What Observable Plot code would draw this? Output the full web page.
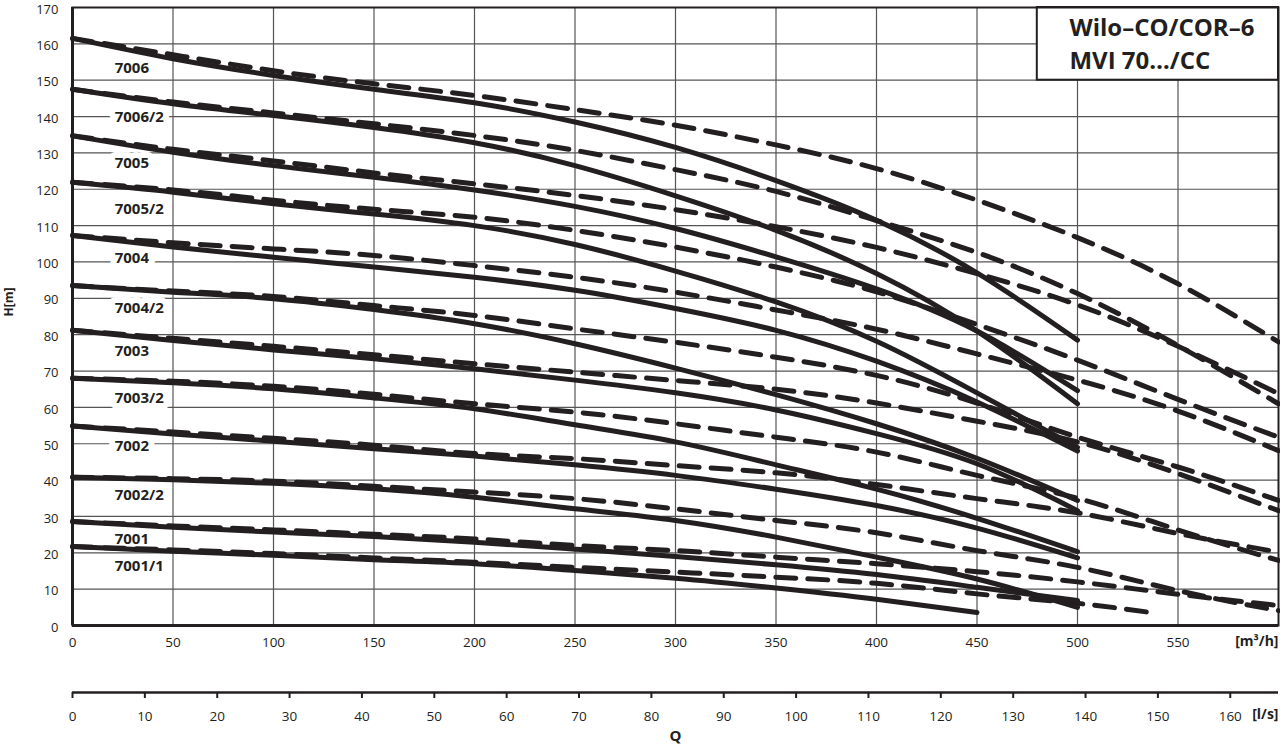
<!DOCTYPE html>
<html><head><meta charset="utf-8">
<script src="https://cdn.jsdelivr.net/npm/d3@7"></script>
<script src="https://cdn.jsdelivr.net/npm/@observablehq/plot@0.6"></script>
<style>
body{margin:0;background:#fff;}
svg{display:block;}
</style></head><body><div id="chart"></div>
<script>
// Tick values
const qTicks = [0,50,100,150,200,250,300,350,400,450,500,550];
const hTicks = [0,10,20,30,40,50,60,70,80,90,100,110,120,130,140,150,160,170];
const lpsTicks = [0,10,20,30,40,50,60,70,80,90,100,110,120,130,140,150,160];

// Flow points (m3/h)
const qSolid = [0,50,100,150,200,250,300,350,400,450,500];
const qDash = [0,50,100,150,200,250,300,350,400,450,500,550,600];
const qSolid7001_1 = [0,50,100,150,200,250,300,350,400,450];
const qDash7001_1 = [0,50,100,150,200,250,300,350,400,450,500,540];

// Head values (m): solid = one curve, dashed = second curve of each model
const h7006_s   = [161.5,155.9,151.3,147.5,143.8,138.5,131.5,122.4,111.5,97,78.5];
const h7006_d   = [161.5,157,152.6,149,145.8,141.9,137.6,132.2,125.7,117,106.7,94,78];
const h7006_2_s = [147.5,143.5,140.3,137,132.8,126.5,118.2,108.7,96.8,81,61];
const h7006_2_d = [147.5,144,141,138,134.8,130.7,125.4,119.4,111.4,102.6,91.3,77,61];
const h7005_s   = [134.7,130.2,126.5,123.3,119.8,115.3,109.2,101.4,92.6,81,64.6];
const h7005_d   = [134.7,131,127.8,124.5,121.5,118.3,114.4,109.7,104,96.8,88.2,76.8,63.8];
const h7005_2_s = [121.9,119.2,116,113.2,110,104.8,97.5,89,78.2,64,49];
const h7005_2_d = [121.9,119.8,117,114.5,112.3,108.7,104.1,98.6,91.8,82.8,73,62.2,51.8];
const h7004_s   = [107.3,104.1,101.3,98.6,95.8,92.2,87.2,81.2,72.7,61.5,48];
const h7004_d   = [107.3,105.3,103.6,101.8,99,95.8,91.7,86.8,81.5,74.7,67.5,59,48.1];
const h7004_2_s = [93.5,91.7,89.9,86.9,83,77.5,70.8,63.5,55.5,46,34.4];
const h7004_2_d = [93.5,92,90.5,88,85.3,81.6,77.9,73.8,68.8,61.2,51.8,43.6,34.4];
const h7003_s   = [81.2,78.4,75.8,73.4,70.6,67.5,64,59.3,52.8,44.5,31.6];
const h7003_d   = [81.2,79,76.8,74.5,72,69.7,67.4,65,61.2,56.2,50.5,41.8,31.6];
const h7003_2_s = [68,66.8,65.1,62.6,59.6,55.2,50.5,44.2,37.5,29.5,20.3];
const h7003_2_d = [68,67.2,65.8,63.6,61,58.7,55.5,51.8,47.7,41.3,35,26.3,17.9];
const h7002_s   = [54.9,52.7,50.7,48.6,46.6,44.2,41.3,37.5,33,26.8,18.6];
const h7002_d   = [54.9,53.2,51.5,49.6,47.3,45.9,44,42,38.8,34.9,31,25.3,20.2];
const h7002_2_s = [40.8,40.1,39.1,37.6,35.3,32.1,28.9,24.3,18.8,12.8,5];
const h7002_2_d = [40.8,40.4,39.7,38.3,36.7,34.9,32.1,28.9,25.5,20.6,16,9.6,4.1];
const h7001_s   = [28.6,27,25.7,24.5,22.9,21,19,16.7,14,10.5,6.9];
const h7001_d   = [28.6,27.4,26.3,25.1,23.8,22,20.6,18.8,17,14.8,12,8.6,5.5];
const h7001_1_s = [21.7,20.4,19.3,18.1,17,15.1,13,10.3,7.2,3.6];
const h7001_1_d = [21.7,20.8,19.8,18.6,17.4,16,14.7,13.3,11.6,8.7,6.1,3.3];

// Curve labels
const labelNames = ["7006","7006/2","7005","7005/2","7004","7004/2","7003","7003/2","7002","7002/2","7001","7001/1"];
const labelQ = [21,21,21,21,21,21,21,21,21,21,21,21];
const labelH = [153.2,139.8,127.3,114.4,101,87.4,75.4,62.5,49.3,35.9,23.8,16.3];

const titleLines = ["Wilo–CO/COR–6","MVI 70…/CC"];
const titleQ = [496,496];
const titleH = [164.2,155.1];

const series = [
  ["7006", h7006_s, h7006_d, qSolid, qDash],
  ["7006/2", h7006_2_s, h7006_2_d, qSolid, qDash],
  ["7005", h7005_s, h7005_d, qSolid, qDash],
  ["7005/2", h7005_2_s, h7005_2_d, qSolid, qDash],
  ["7004", h7004_s, h7004_d, qSolid, qDash],
  ["7004/2", h7004_2_s, h7004_2_d, qSolid, qDash],
  ["7003", h7003_s, h7003_d, qSolid, qDash],
  ["7003/2", h7003_2_s, h7003_2_d, qSolid, qDash],
  ["7002", h7002_s, h7002_d, qSolid, qDash],
  ["7002/2", h7002_2_s, h7002_2_d, qSolid, qDash],
  ["7001", h7001_s, h7001_d, qSolid, qDash],
  ["7001/1", h7001_1_s, h7001_1_d, qSolid7001_1, qDash7001_1]
];
const solidRows = [], dashRows = [];
for (const [name, s, d, qs, qd] of series) {
  s.forEach((h, i) => solidRows.push({curve: name, Q: qs[i], H: h}));
  d.forEach((h, i) => dashRows.push({curve: name, Q: qd[i], H: h}));
}
const labels = labelNames.map((t, i) => ({t, Q: labelQ[i], H: labelH[i]}));
const titles = titleLines.map((t, i) => ({t, Q: titleQ[i], H: titleH[i]}));

const ink = "#231f20";
const grid = "#555";
const font = "'Open Sans', 'DejaVu Sans', sans-serif";

const plot = Plot.plot({
  width: 1280, height: 747,
  marginLeft: 72, marginRight: 2, marginTop: 7, marginBottom: 122,
  x: {domain: [0, 600], label: null},
  y: {domain: [0, 170], label: null},
  style: {fontFamily: font, fontSize: "13px", color: ink, background: "white"},
  marks: [
    Plot.gridX(qTicks.filter(v => v > 0), {stroke: grid, strokeOpacity: 1, strokeWidth: 1.2}),
    Plot.gridY(hTicks.filter(v => v > 0), {stroke: grid, strokeOpacity: 1, strokeWidth: 1.2}),
    Plot.text(labels, {x: "Q", y: "H", text: "t", textAnchor: "start", fontWeight: "bold", fontSize: 15,
      fill: ink, stroke: "white", strokeWidth: 12, strokeLinejoin: "round"}),
    Plot.line(dashRows, {x: "Q", y: "H", z: "curve", stroke: ink, strokeWidth: 5, strokeDasharray: "20,12", curve: "natural"}),
    Plot.line(solidRows, {x: "Q", y: "H", z: "curve", stroke: ink, strokeWidth: 5, curve: "natural"}),
    Plot.rect([{}], {x1: 480, x2: 600, y1: 150, y2: 170, fill: "white", stroke: ink, strokeWidth: 2}),
    Plot.text(titles, {x: "Q", y: "H", text: "t", textAnchor: "start", fontWeight: "bold", fontSize: 24, fill: ink}),
    Plot.frame({stroke: ink, strokeWidth: 2}),
    Plot.ruleX([0], {stroke: ink, strokeWidth: 3}),
    Plot.ruleY([0], {stroke: ink, strokeWidth: 3}),
    Plot.axisY(hTicks, {tickSize: 0, tickPadding: 14, fontSize: 13, dy: 2}),
    Plot.axisX(qTicks, {tickSize: 0, tickPadding: 12, fontSize: 13.5}),
    Plot.text(["[m³/h]"], {frameAnchor: "bottom-right", dy: 20, textAnchor: "end", fontWeight: "bold", fontSize: 14}),
    Plot.ruleY([0], {dy: 67, stroke: ink, strokeWidth: 2.5}),
    Plot.axisX(lpsTicks.map(v => v * 3.6), {anchor: "bottom", dy: 67, tickSize: 6, tickPadding: 13, strokeWidth: 2,
      fontSize: 13.5, tickFormat: d => String(Math.round(d / 3.6))}),
    Plot.text(["[l/s]"], {frameAnchor: "bottom-right", dy: 93, textAnchor: "end", fontWeight: "bold", fontSize: 14}),
    Plot.text(["Q"], {x: [300], frameAnchor: "bottom", dy: 115, fontWeight: "bold", fontSize: 15}),
    Plot.text(["H[m]"], {frameAnchor: "left", dx: -63, rotate: -90, fontWeight: "bold", fontSize: 12})
  ]
});
document.getElementById("chart").append(plot);
</script>
</body></html>
